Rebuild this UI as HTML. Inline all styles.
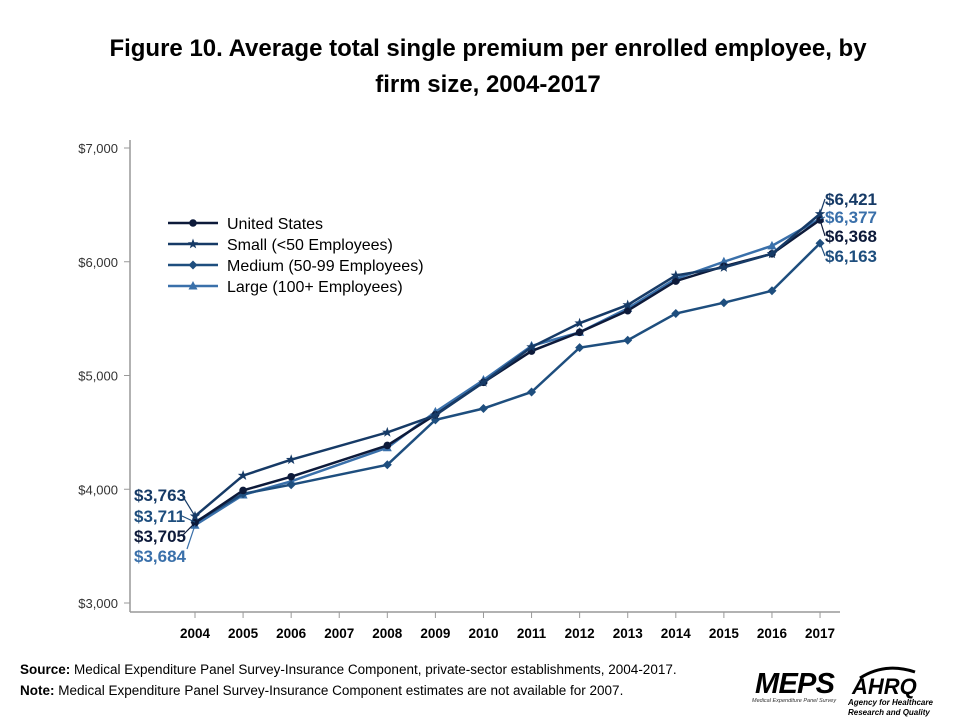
<!DOCTYPE html>
<html><head><meta charset="utf-8"><style>
body{margin:0;background:#fff;font-family:"Liberation Sans",sans-serif;}
svg text{font-family:"Liberation Sans",sans-serif;}
</style></head><body>
<svg width="960" height="720" xmlns="http://www.w3.org/2000/svg" id="chart">
<text x="488" y="56" text-anchor="middle" font-size="24" font-weight="bold" fill="#000">Figure 10. Average total single premium per enrolled employee, by</text>
<text x="488" y="92" text-anchor="middle" font-size="24" font-weight="bold" fill="#000">firm size, 2004-2017</text>
<g id="axes"></g>
<g id="series"></g>
<g id="legend"></g>
<text x="20" y="674" font-size="13.5" fill="#000"><tspan font-weight="bold">Source:</tspan> Medical Expenditure Panel Survey-Insurance Component,  private-sector establishments, 2004-2017.</text>
<text x="20" y="695" font-size="13.5" fill="#000"><tspan font-weight="bold">Note:</tspan> Medical Expenditure Panel Survey-Insurance Component  estimates are not available for 2007.</text>
<g>
<text x="755" y="693" font-size="29" font-weight="bold" font-style="italic" fill="#000" textLength="80">MEPS</text>
<text x="752" y="702" font-size="5.5" font-style="italic" fill="#333">Medical Expenditure Panel Survey</text>
</g>
<g>
<path d="M860 678 Q885 662 915 672" stroke="#000" stroke-width="3" fill="none"/>
<text x="852" y="694" font-size="22" font-weight="bold" font-style="italic" fill="#000">AHRQ</text>
<text x="848" y="705" font-size="8" font-weight="bold" font-style="italic" fill="#000">Agency for Healthcare</text>
<text x="848" y="715" font-size="8" font-weight="bold" font-style="italic" fill="#000">Research and Quality</text>
</g>
</svg>
<script>
const years=[2004,2005,2006,2008,2009,2010,2011,2012,2013,2014,2015,2016,2017];
const tickYears=[2004,2005,2006,2007,2008,2009,2010,2011,2012,2013,2014,2015,2016,2017];
const yTicks=[3000,4000,5000,6000,7000];
const seriesNames=["United States","Small (<50 Employees)","Medium (50-99 Employees)","Large (100+ Employees)"];
const usVals=[3705,3990,4110,4385,4655,4940,5215,5380,5570,5830,5960,6070,6368];
const smallVals=[3763,4120,4260,4500,4650,4940,5250,5460,5620,5880,5950,6070,6421];
const mediumVals=[3711,3960,4040,4215,4610,4710,4855,5245,5310,5545,5640,5745,6163];
const largeVals=[3684,3950,4070,4365,4680,4960,5260,5380,5590,5850,6000,6140,6377];
const NS="http://www.w3.org/2000/svg";
const X=y=>195+(y-2004)*48.08;
const Y=v=>603-(v-3000)*0.11375;
function mk(tag,attrs,parent){const e=document.createElementNS(NS,tag);for(const k in attrs)e.setAttribute(k,attrs[k]);parent.appendChild(e);return e;}
const axes=document.getElementById('axes');
let a=mk('line',{x1:130,y1:140,x2:130,y2:612,stroke:'#999','stroke-width':1.5},axes);


a=mk('line',{x1:130,y1:612,x2:840,y2:612,stroke:'#999','stroke-width':1.5},axes);


yTicks.forEach(v=>{mk('line',{x1:124,y1:Y(v),x2:130,y2:Y(v),stroke:'#999'},axes);
const t=mk('text',{x:118,y:Y(v)+5,'text-anchor':'end','font-size':13,fill:'#333'},axes);t.textContent='$'+v.toLocaleString('en-US');

});
tickYears.forEach(yr=>{mk('line',{x1:X(yr),y1:612,x2:X(yr),y2:618,stroke:'#999'},axes);
const t=mk('text',{x:X(yr),y:638,'text-anchor':'middle','font-size':13.5,'font-weight':'bold',fill:'#000'},axes);t.textContent=yr;

});
const colors=['#0d1a3a','#163a66','#1e4e7e','#3a70aa'];
const markers=['circle','star','diamond','triangle'];
const allVals=[usVals,smallVals,mediumVals,largeVals];
function marker(type,x,y,c,g){
 if(type==='circle')return mk('circle',{cx:x,cy:y,r:3.8,fill:c},g);
 if(type==='diamond')return mk('polygon',{points:`${x},${y-4.5} ${x+4.5},${y} ${x},${y+4.5} ${x-4.5},${y}`,fill:c},g);
 if(type==='triangle')return mk('polygon',{points:`${x},${y-5} ${x+4.5},${y+3.5} ${x-4.5},${y+3.5}`,fill:c},g);
 let p=[];for(let i=0;i<10;i++){const r=i%2?2.2:5.5,an=-Math.PI/2+i*Math.PI/5;p.push((x+r*Math.cos(an)).toFixed(1)+','+(y+r*Math.sin(an)).toFixed(1));}
 return mk('polygon',{points:p.join(' '),fill:c},g);}
const sg=document.getElementById('series');
[3,2,0,1].forEach(i=>{
 const g=mk('g',{},sg);
 
 
 mk('polyline',{points:years.map((yr,j)=>X(yr)+','+Y(allVals[i][j])).join(' '),fill:'none',stroke:colors[i],'stroke-width':2.5},g);
 years.forEach((yr,j)=>{const m=marker(markers[i],X(yr),Y(allVals[i][j]),colors[i],g);
 
 });
});
const labColors=['#0d1a3a','#163a66','#1e4e7e','#3a70aa'];
const leftY=[542,501,522,562];
const rightY=[242,205,262,223];
const lastIdx=years.length-1;
allVals.forEach((vals,i)=>{
 let t=mk('text',{x:134,y:leftY[i],'font-size':17,'font-weight':'bold',fill:labColors[i]},sg);
 t.textContent='$'+vals[0].toLocaleString('en-US');
 
 
 mk('line',{x1:i==3?187:182,y1:leftY[i]-(i==3?13:6),x2:X(2004),y2:Y(vals[0]),stroke:labColors[i],'stroke-width':1.2},sg);
 t=mk('text',{x:825,y:rightY[i],'font-size':17,'font-weight':'bold',fill:labColors[i]},sg);
 t.textContent='$'+vals[lastIdx].toLocaleString('en-US');
 
 
 mk('line',{x1:825,y1:rightY[i]-6,x2:X(2017),y2:Y(vals[lastIdx]),stroke:labColors[i],'stroke-width':1.2},sg);
});
const lg=document.getElementById('legend');
seriesNames.forEach((n,i)=>{
 const y=223+i*21;
 const g=mk('g',{},lg);
 
 
 mk('line',{x1:168,y1:y,x2:218,y2:y,stroke:colors[i],'stroke-width':2.5},g);
 marker(markers[i],193,y,colors[i],g);
 const t=mk('text',{x:227,y:y+6,'font-size':16,fill:'#000'},g);t.textContent=n;
});
</script>
</body></html>
